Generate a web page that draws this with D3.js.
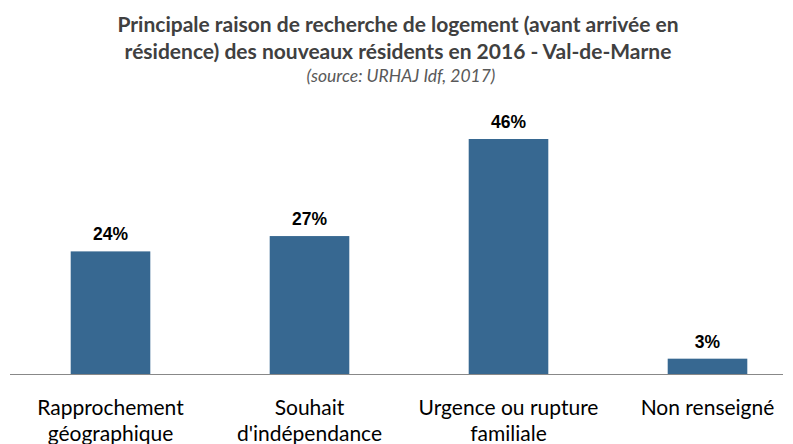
<!DOCTYPE html>
<html>
<head>
<meta charset="utf-8">
<script src="https://cdn.jsdelivr.net/npm/d3@7"></script>
<style>
  body { margin: 0; background: #fff; }
  svg { display: block; }
  .title { font-family: Lato, "Open Sans", sans-serif; font-weight: bold; fill: #404040; }
  .subtitle { font-family: Lato, "Open Sans", sans-serif; font-style: italic; fill: #595959; }
  .cat { font-family: Lato, "Open Sans", sans-serif; fill: #000; }
  .val { font-family: "Liberation Sans", Arial, sans-serif; font-weight: bold; fill: #000; }
</style>
</head>
<body>
<svg id="chart" width="793" height="444"></svg>
<script>
const categories = [
    ["Rapprochement", "géographique"],
    ["Souhait", "d'indépendance"],
    ["Urgence ou rupture", "familiale"],
    ["Non renseigné"]
];
const values = [24, 27, 46, 3];
const valueLabels = ["24%", "27%", "46%", "3%"];
const titleLines = [
    "Principale raison de recherche de logement (avant arrivée en",
    "résidence) des nouveaux résidents en 2016 - Val-de-Marne"
];
const subtitle = "(source: URHAJ Idf, 2017)";

const svg = d3.select("#chart");
const baseline = 374;

const xScale = d3.scaleBand()
    .domain(d3.range(values.length))
    .range([11, 807])
    .paddingInner(0.6)
    .paddingOuter(0.3);

const yScale = d3.scaleLinear()
    .domain([0, 46])
    .range([baseline, 139]);

// titles
svg.selectAll("text.title").data(titleLines)
    .enter().append("text")
    .attr("class", "title")
    .attr("x", 398)
    .attr("y", (d, i) => 32 + i * 27)
    .attr("text-anchor", "middle")
    .style("font-size", "21px")
    .text(d => d);

svg.append("text")
    .attr("class", "subtitle")
    .attr("x", 401)
    .attr("y", 82)
    .attr("text-anchor", "middle")
    .style("font-size", "17.5px")
    .text(subtitle);

// bars
svg.selectAll("rect.bar").data(values)
    .enter().append("rect")
    .attr("class", "bar")
    .attr("x", (d, i) => xScale(i))
    .attr("width", xScale.bandwidth())
    .attr("y", d => yScale(d))
    .attr("height", d => baseline - yScale(d))
    .attr("fill", "#376891");

svg.selectAll("text.val").data(values)
    .enter().append("text")
    .attr("class", "val")
    .attr("x", (d, i) => xScale(i) + xScale.bandwidth() / 2)
    .attr("y", d => yScale(d) - 11)
    .attr("text-anchor", "middle")
    .style("font-size", "17.5px")
    .text((d, i) => valueLabels[i]);

// axis line
svg.append("line")
    .attr("x1", 10).attr("x2", 783)
    .attr("y1", baseline + 0.5).attr("y2", baseline + 0.5)
    .attr("stroke", "#888")
    .attr("stroke-width", 1);

// category labels
const catGroups = svg.selectAll("text.cat").data(categories)
    .enter().append("text")
    .attr("class", "cat")
    .attr("text-anchor", "middle")
    .style("font-size", "21px");

catGroups.selectAll("tspan").data((d, i) => d.map(line => ({ line, i })))
    .enter().append("tspan")
    .attr("x", d => xScale(d.i) + xScale.bandwidth() / 2)
    .attr("y", (d, j) => 415 + j * 26)
    .text(d => d.line);
</script>
</body>
</html>
